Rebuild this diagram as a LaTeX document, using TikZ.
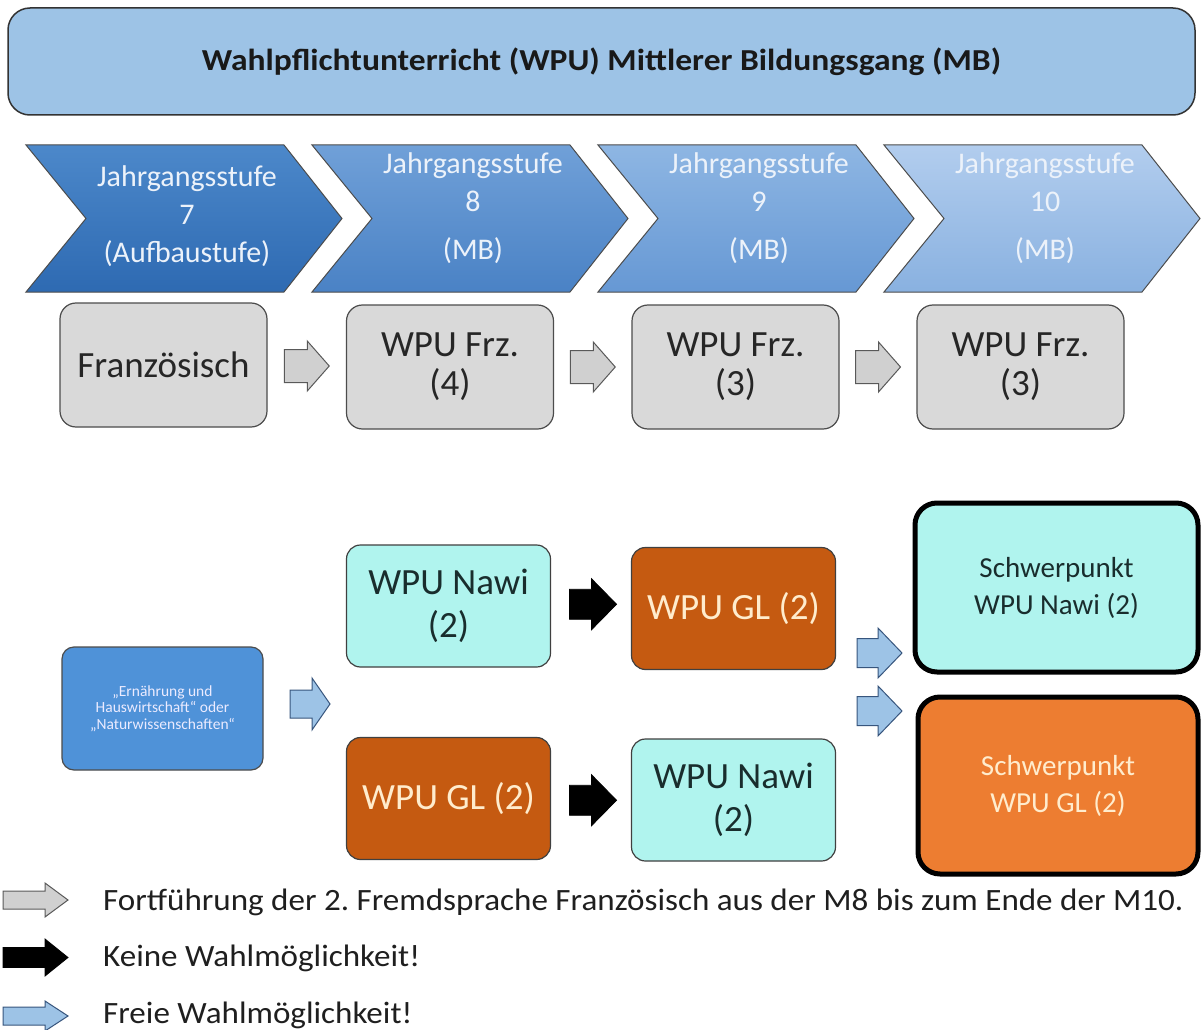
\documentclass[tikz,border=0pt]{standalone}
\usepackage{fontspec}
\setmainfont{Carlito}
\frenchspacing
\usetikzlibrary{calc}
\definecolor{titlefill}{RGB}{157,195,230}
\definecolor{graybox}{RGB}{217,217,217}
\definecolor{grayarr}{RGB}{208,208,208}
\definecolor{cyanbox}{RGB}{176,244,238}
\definecolor{brownbox}{RGB}{197,90,17}
\definecolor{orangebox}{RGB}{237,125,49}
\definecolor{browntext}{RGB}{255,236,205}
\definecolor{cyantext}{RGB}{25,45,45}
\definecolor{smallblue}{RGB}{79,146,216}
\definecolor{bluearr}{RGB}{157,195,230}
\definecolor{bluearrline}{RGB}{55,85,125}
\definecolor{chAt}{RGB}{76,136,202}\definecolor{chAb}{RGB}{46,106,178}
\definecolor{chBt}{RGB}{112,160,216}\definecolor{chBb}{RGB}{74,130,197}
\definecolor{chCt}{RGB}{142,182,227}\definecolor{chCb}{RGB}{102,152,212}
\definecolor{chDt}{RGB}{178,205,238}\definecolor{chDb}{RGB}{137,177,224}
\definecolor{chtext}{RGB}{236,242,250}
\begin{document}
\begin{tikzpicture}[x=1pt,y=-1pt,
  titlebox/.style={draw=black!80, line width=1.5pt, fill=titlefill, rounded corners=22pt,
    minimum width=1187pt, minimum height=107pt, inner sep=0pt,
    font=\fontsize{30.5}{34}\bfseries\selectfont, text=black!90},
  chevtext/.style={align=center, text=chtext, inner sep=0pt, font=\fontsize{30}{38}\selectfont},
  chevline/.style={draw=black!70, line width=1pt},
  frbox/.style={draw=black!70, line width=1.2pt, fill=graybox, rounded corners=16pt,
    minimum width=207pt, minimum height=124pt, inner sep=0pt, align=center,
    text=black!85, font=\fontsize{37}{39}\selectfont},
  nawibox/.style={draw=black!75, line width=1.2pt, fill=cyanbox, rounded corners=14pt,
    minimum width=204pt, minimum height=122pt, inner sep=0pt, align=center,
    text=cyantext, font=\fontsize{37}{43}\selectfont},
  glbox/.style={nawibox, fill=brownbox, text=browntext},
  smallbox/.style={draw=black!70, line width=1.2pt, fill=smallblue, rounded corners=12pt,
    minimum width=201pt, minimum height=123pt, inner sep=0pt, align=center,
    text=white!92!blue, font=\fontsize{15.5}{16.5}\selectfont},
  spbox/.style={draw=black, line width=5pt, rounded corners=22pt, inner sep=0pt, align=center,
    font=\fontsize{29}{37}\selectfont},
  legtext/.style={anchor=west, inner sep=0pt, text=black!88, font=\fontsize{31}{36}\selectfont},
  grayarrow/.style={fill=grayarr, draw=black!65, line width=1pt},
  blackarrow/.style={fill=black, draw=black, line width=0.8pt},
  bluearrow/.style={fill=bluearr, draw=bluearrline, line width=1pt},
  pics/barr/.style n args={4}{code={
    \path[pic actions] (-#1/2,-#4/2) -- (#1/2-#2,-#4/2) -- (#1/2-#2,-#3/2) -- (#1/2,0)
      -- (#1/2-#2,#3/2) -- (#1/2-#2,#4/2) -- (-#1/2,#4/2) -- cycle;}}
]
\useasboundingbox[fill=white] (0,0) rectangle (1203,1030);

% title
\node[titlebox] (title) at (601.5,61.5) {\scalebox{1.1}[1]{Wahlpflichtunterricht (WPU) Mittlerer Bildungsgang (MB)}};

% chevrons
\foreach \i/\ct/\cb in {0/chAt/chAb,1/chBt/chBb,2/chCt/chCb,3/chDt/chDb}{
  \pgfmathsetmacro{\xo}{26+286*\i}
  \shade[top color=\ct, bottom color=\cb, chevline]
    (\xo,145) -- (\xo+258,145) -- (\xo+316,218.5) -- (\xo+258,292) -- (\xo,292) -- (\xo+60,218.5) -- cycle;
}
\node[chevtext] (c7) at (187,216) {Jahrgangsstufe\\7\\(Aufbaustufe)};
\node[chevtext] (c8) at (473,208) {Jahrgangsstufe\\8\\[10pt](MB)};
\node[chevtext] (c9) at (759,208) {Jahrgangsstufe\\9\\[10pt](MB)};
\node[chevtext] (c10) at (1045,208) {Jahrgangsstufe\\10\\[10pt](MB)};

% french row
\node[frbox] (fr1) at (163.5,365) {Französisch};
\node[frbox] (fr2) at (450,367) {WPU Frz.\\(4)};
\node[frbox] (fr3) at (735.5,367) {WPU Frz.\\(3)};
\node[frbox] (fr4) at (1020.5,367) {WPU Frz.\\(3)};
\pic[grayarrow] at ($(fr1.east)!0.5!(fr2.west)$) {barr={45}{22}{50}{33}};
\pic[grayarrow] at ($(fr2.east)!0.5!(fr3.west)$) {barr={45}{22}{50}{33}};
\pic[grayarrow] at ($(fr3.east)!0.5!(fr4.west)$) {barr={45}{22}{50}{33}};

% elective rows
\node[smallbox] (eh) at (162.5,708.5) {„Ernährung und\\Hauswirtschaft“ oder\\„Naturwissenschaften“};
\node[nawibox] (nawiA) at (448.5,606) {WPU Nawi\\(2)};
\node[glbox] (glA) at (733.5,608.5) {WPU GL (2)};
\node[glbox] (glB) at (448.5,798.5) {WPU GL (2)};
\node[nawibox] (nawiB) at (733.5,800) {WPU Nawi\\(2)};
\node[spbox, fill=cyanbox, text=cyantext, minimum width=283pt, minimum height=169pt] (spN) at (1056.5,587.5) {Schwerpunkt\\WPU Nawi (2)};
\node[spbox, fill=orangebox, text=browntext, minimum width=280pt, minimum height=177pt] (spG) at (1058,785.5) {Schwerpunkt\\WPU GL (2)};

\pic[bluearrow] at (310,704) {barr={40}{18}{52}{28}};
\pic[blackarrow] at ($(nawiA.east)!0.5!(glA.west)+(2,-3)$) {barr={47}{25}{51}{30}};
\pic[blackarrow] at ($(glB.east)!0.5!(nawiB.west)+(2,1)$) {barr={47}{25}{51}{30}};
\pic[bluearrow] at (879.5,653) {barr={45}{24}{50}{29}};
\pic[bluearrow] at (879.5,711) {barr={45}{24}{50}{29}};

% legend
\pic[grayarrow] at (35.5,900) {barr={65}{23}{34}{18}};
\pic[blackarrow] at (35.5,957.5) {barr={65}{23}{37}{20}};
\pic[bluearrow] at (35.5,1016) {barr={65}{23}{30}{18}};
\node[legtext] (l1) at (103,902) {\scalebox{1.067}[1]{Fortführung der 2. Fremdsprache Französisch aus der M8 bis zum Ende der M10.}};
\node[legtext] (l2) at (103,958) {\scalebox{1.067}[1]{Keine Wahlmöglichkeit!}};
\node[legtext] (l3) at (103,1015) {\scalebox{1.067}[1]{Freie Wahlmöglichkeit!}};
\end{tikzpicture}
\end{document}
